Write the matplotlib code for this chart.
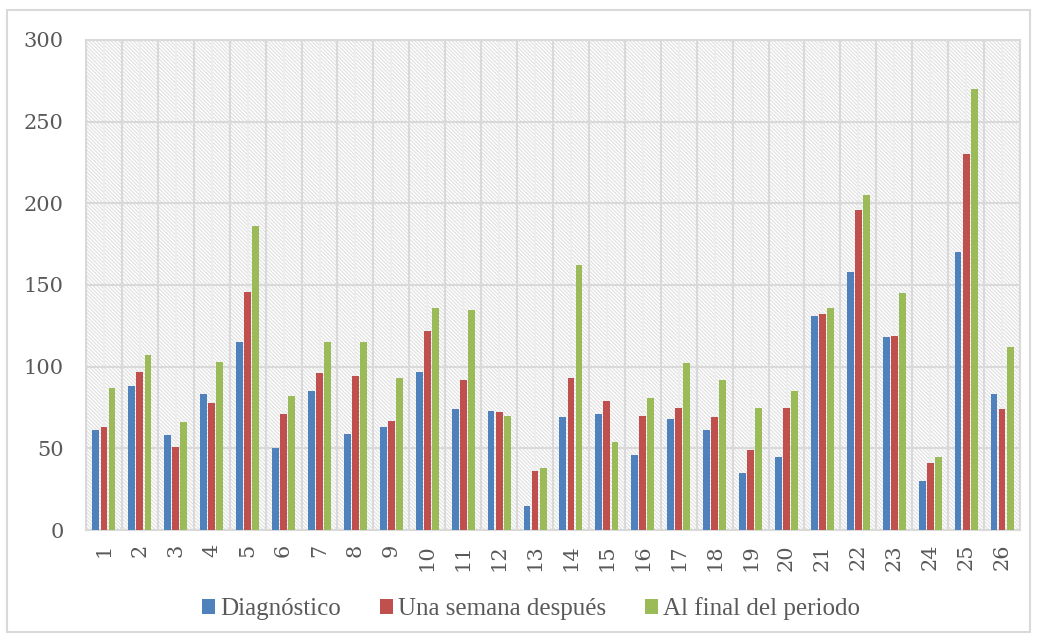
import matplotlib
matplotlib.use("Agg")
import matplotlib.pyplot as plt
from matplotlib.patches import Rectangle
import numpy as np

categories = [str(i) for i in range(1, 27)]
diagnostico = [61, 88, 58, 83, 115, 50, 85, 59, 63, 97, 74, 73, 15, 69, 71, 46, 68, 61, 35, 45, 131, 158, 118, 30, 170, 83]
una_semana = [63, 97, 51, 78, 146, 71, 96, 94, 67, 122, 92, 72, 36, 93, 79, 70, 75, 69, 49, 75, 132, 196, 119, 41, 230, 74]
al_final = [87, 107, 66, 103, 186, 82, 115, 115, 93, 136, 135, 70, 38, 162, 54, 81, 102, 92, 75, 85, 136, 205, 145, 45, 270, 112]
series_names = ["Diagnóstico", "Una semana después", "Al final del periodo"]
colors = ["#4f81bd", "#c0504d", "#9bbb59"]
yticks = [0, 50, 100, 150, 200, 250, 300]

plt.rcParams['font.family'] = ['DejaVu Serif']
plt.rcParams['hatch.linewidth'] = 0.9
plt.rcParams['hatch.color'] = '#e2e2e2'

fig = plt.figure(figsize=(10.37, 6.42), dpi=100)
ax = fig.add_axes([86/1037, 1-530/642, (1020-86)/1037, (530-40)/642])

# hatched background
ax.patch.set_facecolor('white')
bg = Rectangle((0, 0), 1, 1, transform=ax.transAxes, facecolor='white',
               edgecolor='#e2e2e2', hatch='\\' * 9, linewidth=0, zorder=0)
ax.add_patch(bg)

x = np.arange(len(categories))
w = 0.19
step = 0.225
for i, (vals, c, name) in enumerate(zip([diagnostico, una_semana, al_final], colors, series_names)):
    ax.bar(x + (i - 1) * step, vals, width=w, color=c, label=name, zorder=3)

ax.set_xlim(-0.5, len(categories) - 0.5)
ax.set_ylim(0, 300)
ax.set_yticks(yticks)
ax.set_xticks(x)
ax.set_xticklabels(categories, rotation=90)
ax.set_xticks(np.arange(-0.5, len(categories)), minor=True)

ax.grid(which='minor', axis='x', color='#d9d9d9', linewidth=1.5, zorder=1)
ax.grid(which='major', axis='y', color='#d9d9d9', linewidth=1.5, zorder=1)
ax.grid(which='major', axis='x', color='#ededed', linewidth=1.2, zorder=1)
ax.set_axisbelow(True)

ax.tick_params(axis='both', which='both', length=0, labelsize=15, colors='#595959')
ax.tick_params(axis='y', pad=16)
ax.tick_params(axis='x', pad=10)
for s in ax.spines.values():
    s.set_color('#d9d9d9')
    s.set_linewidth(1.5)

leg = fig.legend(loc='center', bbox_to_anchor=(531/1037, 1-609/642), ncol=3,
                 frameon=False, prop={'family': 'Liberation Serif', 'size': 18},
                 handlelength=0.52, handleheight=0.52,
                 handletextpad=0.2, columnspacing=1.56, labelcolor='#595959')

fig.patches.append(Rectangle((7/1037, 1-632/642), (1030-7)/1037, (632-10)/642,
                             transform=fig.transFigure, fill=False,
                             edgecolor='#d9d9d9', linewidth=1.5))

fig.savefig('out.png', dpi=100)
